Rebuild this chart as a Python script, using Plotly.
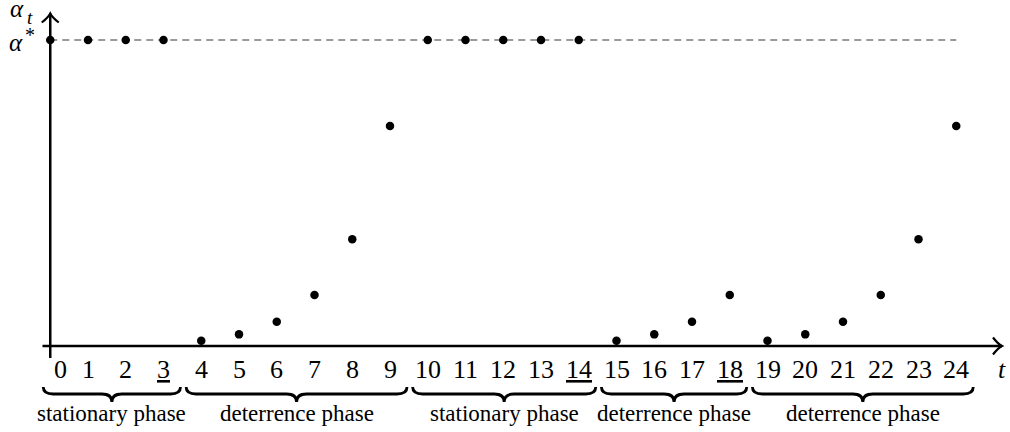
import plotly.graph_objects as go

# ---------------- data ----------------
t_values = list(range(25))
alpha_star = 1.0
alpha_values = [1.0, 1.0, 1.0, 1.0,
                0.017, 0.038, 0.079, 0.167, 0.349, 0.719,
                1.0, 1.0, 1.0, 1.0, 1.0,
                0.017, 0.038, 0.079, 0.167,
                0.017, 0.038, 0.079, 0.167, 0.349, 0.719]
tick_labels = ["0", "1", "2", "<u>3</u>", "4", "5", "6", "7", "8", "9",
               "10", "11", "12", "13", "<u>14</u>", "15", "16", "17", "<u>18</u>",
               "19", "20", "21", "22", "23", "24"]
phase_names = ["stationary phase", "deterrence phase", "stationary phase",
               "deterrence phase", "deterrence phase"]
phase_start = [0, 4, 10, 15, 19]
phase_end = [3, 9, 14, 18, 24]

# ---------------- geometry helpers ----------------
W, H = 1010, 432
X0_PX, X_SCALE = 50.25, 37.75   # pixel of t=0, pixels per unit t
Y0_PX, Y_SCALE = 346.0, 306.0   # pixel of alpha=0, pixels per alpha*

x_range = [(0 - X0_PX) / X_SCALE, (W - X0_PX) / X_SCALE]
y_range = [(Y0_PX - H) / Y_SCALE, Y0_PX / Y_SCALE]


def px_x(p):
    return (p - X0_PX) / X_SCALE


def px_y(p):
    return (Y0_PX - p) / Y_SCALE


def dxp(p):
    return p / X_SCALE


def dyp(p):
    return p / Y_SCALE


FONT = "Liberation Serif"
BLACK = "black"

fig = go.Figure()

# dashed alpha* reference line
fig.add_trace(go.Scatter(
    x=[t_values[0], t_values[-1]], y=[alpha_star, alpha_star],
    mode="lines", line=dict(color="#7a7a7a", width=1.5, dash="7px,5px"),
    hoverinfo="skip", showlegend=False))

# points
fig.add_trace(go.Scatter(
    x=t_values, y=alpha_values, mode="markers",
    marker=dict(color=BLACK, size=8.5, line=dict(width=0)),
    cliponaxis=False, showlegend=False))

shapes = []
annotations = []

# axes
x_axis_start = px_x(42.5)
x_axis_end = px_x(1002)
y_axis_bottom = px_y(358)
y_axis_top = px_y(13.5)
shapes.append(dict(type="line", xref="x", yref="y", x0=x_axis_start, x1=x_axis_end,
                   y0=0, y1=0, line=dict(color=BLACK, width=2.5), layer="above"))
shapes.append(dict(type="line", xref="x", yref="y", x0=0, x1=0,
                   y0=y_axis_bottom, y1=y_axis_top, line=dict(color=BLACK, width=2.5),
                   layer="above"))
# arrow heads (open chevrons)
ax_tip_x = x_axis_end
shapes.append(dict(
    type="path", xref="x", yref="y", layer="above",
    path=(f"M {ax_tip_x - dxp(9)},{dyp(8.5)} Q {ax_tip_x - dxp(4)},{dyp(2)} {ax_tip_x},0 "
          f"Q {ax_tip_x - dxp(4)},{-dyp(2)} {ax_tip_x - dxp(9)},{-dyp(8.5)}"),
    line=dict(color=BLACK, width=2.2)))
ay_tip = y_axis_top
shapes.append(dict(
    type="path", xref="x", yref="y", layer="above",
    path=(f"M {-dxp(8.5)},{ay_tip - dyp(9)} Q {-dxp(2)},{ay_tip - dyp(4)} 0,{ay_tip} "
          f"Q {dxp(2)},{ay_tip - dyp(4)} {dxp(8.5)},{ay_tip - dyp(9)}"),
    line=dict(color=BLACK, width=2.2)))

# tick labels
label_y = px_y(369)
for t, lab in zip(t_values, tick_labels):
    annotations.append(dict(
        x=t, y=label_y, xref="x", yref="y", text=lab, showarrow=False,
        xanchor="center", yanchor="middle", xshift=10 if t == 0 else 0,
        font=dict(family=FONT, size=26, color=BLACK)))

# axis titles
annotations.append(dict(x=px_x(1002), y=label_y, xref="x", yref="y", text="<i>t</i>",
                        showarrow=False, xanchor="center", yanchor="middle",
                        font=dict(family=FONT, size=26, color=BLACK)))
# alpha_t (y-axis title)
annotations.append(dict(x=px_x(16.5), y=px_y(8.5), xref="x", yref="y", text="<i>α</i>",
                        showarrow=False, xanchor="center", yanchor="middle",
                        font=dict(family=FONT, size=25, color=BLACK)))
annotations.append(dict(x=px_x(30), y=px_y(17), xref="x", yref="y", text="<i>t</i>",
                        showarrow=False, xanchor="center", yanchor="middle",
                        font=dict(family=FONT, size=19, color=BLACK)))
# alpha* (y tick)
annotations.append(dict(x=px_x(16), y=alpha_star - dyp(2), xref="x", yref="y", text="<i>α</i>",
                        showarrow=False, xanchor="center", yanchor="middle",
                        font=dict(family=FONT, size=25, color=BLACK)))
annotations.append(dict(x=px_x(30), y=alpha_star + dyp(5), xref="x", yref="y", text="*",
                        showarrow=False, xanchor="center", yanchor="middle",
                        font=dict(family=FONT, size=20, color=BLACK)))

# braces and phase names
y_top = px_y(387)
y_mid = px_y(394)
y_tip = px_y(402)
r = dxp(10)
for name, s, e in zip(phase_names, phase_start, phase_end):
    left = max(s - 0.4, x_axis_start + 0.02)
    right = e + 0.45
    mid = (left + right) / 2
    path = (f"M {left},{y_top} Q {left},{y_mid} {left + r},{y_mid} "
            f"L {mid - r},{y_mid} Q {mid},{y_mid} {mid},{y_tip} "
            f"Q {mid},{y_mid} {mid + r},{y_mid} "
            f"L {right - r},{y_mid} Q {right},{y_mid} {right},{y_top}")
    shapes.append(dict(type="path", xref="x", yref="y", path=path, layer="above",
                       line=dict(color=BLACK, width=2.8)))
    annotations.append(dict(x=mid, y=px_y(413), xref="x", yref="y", text=name,
                            showarrow=False, xanchor="center", yanchor="middle",
                            font=dict(family=FONT, size=23, color=BLACK)))

fig.update_layout(
    width=W, height=H,
    margin=dict(l=0, r=0, t=0, b=0),
    paper_bgcolor="white", plot_bgcolor="white",
    xaxis=dict(range=x_range, visible=False, fixedrange=True),
    yaxis=dict(range=y_range, visible=False, fixedrange=True),
    shapes=shapes, annotations=annotations,
    showlegend=False,
)

fig.write_html("out.html", config={"displayModeBar": False},
               post_script="document.body.style.margin='0';document.body.style.overflow='hidden';")
